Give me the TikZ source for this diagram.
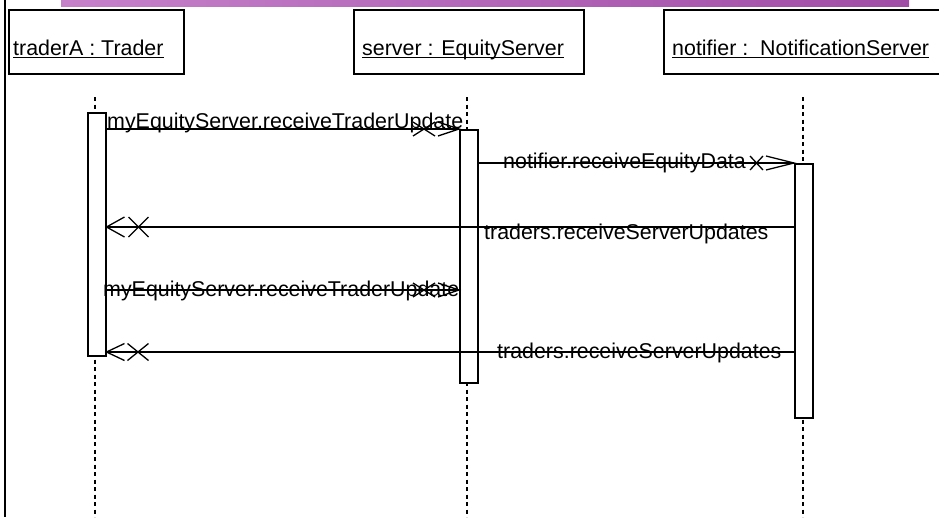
\documentclass[tikz,border=0pt]{standalone}
\usepackage{fontspec}
\setmainfont{Liberation Sans}
\usetikzlibrary{calc}
\definecolor{barL}{RGB}{198,128,202}
\definecolor{barM}{RGB}{176,96,180}
\definecolor{barR}{RGB}{160,76,166}
\begin{document}
\begin{tikzpicture}[x=1pt,y=-1pt,
  obj/.style={draw,line width=1.5pt,minimum height=64pt,anchor=north west,inner sep=0},
  actbar/.style={draw,fill=white,line width=1.5pt,inner sep=0,minimum width=18pt,anchor=north west},
  life/.style={line width=1.3pt,dash pattern=on 4pt off 3.5pt},
  msg/.style={line width=1.3pt},
  lbl/.style={inner sep=0,font=\fontsize{21.4}{24}\selectfont},
  uline/.style={line width=1pt},
  pics/xtip/.style n args={4}{code={
    \draw[line width=1.3pt] (-#1,-#2) -- (0,0) -- (-#1,#2);
    \draw[line width=1.3pt] (-#3,-#2) -- (-#4,#2) (-#3,#2) -- (-#4,-#2);
  }}
]
\useasboundingbox (0,0) rectangle (939,517);
\clip (0,0) rectangle (939,517);
\fill[white] (0,0) rectangle (939,517);

% top bar and left border
\shade[left color=barL,middle color=barM,right color=barR] (61,0) rectangle (909,6);
\draw[line width=2pt] (5,0) -- (5,517);

% objects
\node[obj,minimum width=175pt] (tA) at (8,9) {};
\node[obj,minimum width=230pt] (sS) at (353,9) {};
\node[obj,minimum width=300pt] (nN) at (663,9) {};
\node[lbl,anchor=base west] (tAl) at (13,55) {traderA : Trader};
\node[lbl,anchor=base west] (sSl) at (362,55) {server : EquityServer};
\node[lbl,anchor=base west] (nNl) at (672,55) {notifier :\ \ NotificationServer};
\foreach \n in {tAl,sSl,nNl}
  \draw[uline] ($(\n.base west)+(0,2.5)$) -- ($(\n.base east)+(0,2.5)$);

% lifelines
\coordinate (tTop) at (95,97);
\coordinate (sTop) at (467,97);
\coordinate (nTop) at (803,97);
\coordinate (bot) at (0,517);
\draw[life] (tTop) -- (tTop |- bot);
\draw[life] (sTop) -- (sTop |- bot);
\draw[life] (nTop) -- (nTop |- bot);

% activation bars
\node[actbar,minimum height=243pt] (aT) at (87,112) {};
\node[actbar,minimum height=253pt] (aS) at (459,129) {};
\node[actbar,minimum height=254pt] (aN) at (794,163) {};

% messages
\coordinate (y1) at (0,129);
\coordinate (y2) at (0,163);
\coordinate (y3) at (0,227);
\coordinate (y4) at (0,290);
\coordinate (y5) at (0,352);

\draw[msg] (aT.east |- y1) -- (aS.west |- y1);
\pic at (aS.west |- y1) {xtip={21}{7}{46}{24}};
\node[lbl,anchor=base west] (l1) at (107,128) {myEquityServer.receiveTraderUpdate};

\draw[msg] (aS.east |- y2) -- (aN.west |- y2);
\pic at (aN.west |- y2) {xtip={28}{7}{44}{31}};
\node[lbl,anchor=base west] (l2) at (503,168) {notifier.receiveEquityData};

\draw[msg] (aN.west |- y3) -- (aT.east |- y3);
\pic[rotate=180] at (aT.east |- y3) {xtip={18}{10}{42}{22}};
\node[lbl,anchor=base west] (l3) at (484,239) {traders.receiveServerUpdates};

\draw[msg] (aT.east |- y4) -- (aS.west |- y4);
\pic at (aS.west |- y4) {xtip={21}{7}{46}{24}};
\node[lbl,anchor=base west] (l4) at (103,296) {myEquityServer.receiveTraderUpdate};

\draw[msg] (aN.west |- y5) -- (aT.east |- y5);
\pic[rotate=180] at (aT.east |- y5) {xtip={18}{8.5}{42}{21}};
\node[lbl,anchor=base west] (l5) at (497,358) {traders.receiveServerUpdates};
\end{tikzpicture}
\end{document}
